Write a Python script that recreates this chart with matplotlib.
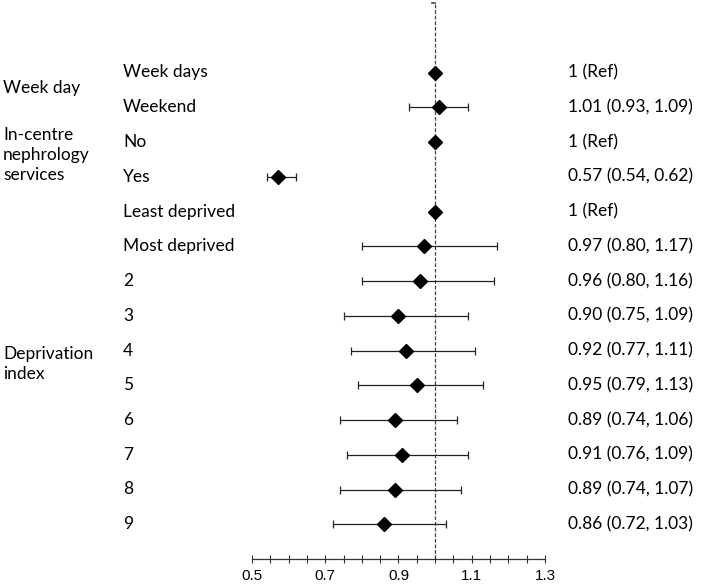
import matplotlib
matplotlib.use("Agg")
import matplotlib.pyplot as plt
import matplotlib.transforms as mtransforms
import numpy as np

# rows, top to bottom
labels = ["Week days", "Weekend", "No", "Yes", "Least deprived", "Most deprived",
          "2", "3", "4", "5", "6", "7", "8", "9"]
est = [1.00, 1.01, 1.00, 0.57, 1.00, 0.97, 0.96, 0.90, 0.92, 0.95, 0.89, 0.91, 0.89, 0.86]
lo = [np.nan, 0.93, np.nan, 0.54, np.nan, 0.80, 0.80, 0.75, 0.77, 0.79, 0.74, 0.76, 0.74, 0.72]
hi = [np.nan, 1.09, np.nan, 0.62, np.nan, 1.17, 1.16, 1.09, 1.11, 1.13, 1.06, 1.09, 1.07, 1.03]
ci_text = ["1 (Ref)", "1.01 (0.93, 1.09)", "1 (Ref)", "0.57 (0.54, 0.62)", "1 (Ref)",
           "0.97 (0.80, 1.17)", "0.96 (0.80, 1.16)", "0.90 (0.75, 1.09)",
           "0.92 (0.77, 1.11)", "0.95 (0.79, 1.13)", "0.89 (0.74, 1.06)",
           "0.91 (0.76, 1.09)", "0.89 (0.74, 1.07)", "0.86 (0.72, 1.03)"]
groups = ["Week day", "In-centre\nnephrology\nservices", "Deprivation\nindex"]
group_pos = [0.45, 2.38, 8.4]

W, H = 702, 584
fig = plt.figure(figsize=(W / 100, H / 100), dpi=100)
ax = fig.add_axes([252 / W, 25 / H, 293 / W, 556 / H])

txt_font = ["Lato", "DejaVu Sans"]

y = np.arange(len(labels))
est = np.array(est)
lo = np.array(lo)
hi = np.array(hi)
has_ci = ~np.isnan(lo)
ax.errorbar(est[has_ci], y[has_ci],
            xerr=[est[has_ci] - lo[has_ci], hi[has_ci] - est[has_ci]],
            fmt="none", ecolor="#222222", elinewidth=0.9, capsize=3, capthick=0.9)
ax.plot(est, y, "D", color="black", markersize=7.5, zorder=3)

# reference line at 1 with a small stub at its top
ax.axvline(1.0, color="#444444", lw=0.9, ls=(0, (3, 1.5)), zorder=1)
ax.plot([0.992, 1.0], [-2, -2], color="#444444", lw=1.2, clip_on=False)

ax.set_xlim(0.5, 1.3)
ax.set_ylim(14, -2)
ax.set_xticks(np.arange(0.5, 1.31, 0.2))
ax.set_xticklabels(["0.5", "0.7", "0.9", "1.1", "1.3"], fontfamily="Liberation Sans", fontsize=11)
ax.set_xticks(np.arange(0.5, 1.31, 0.05), minor=True)
ax.tick_params(axis="x", which="both", direction="inout", length=6, width=0.8, color="#333333", pad=4)
ax.set_yticks([])
for s in ["left", "right", "top"]:
    ax.spines[s].set_visible(False)
ax.spines["bottom"].set_color("#333333")
ax.spines["bottom"].set_linewidth(0.9)

tr = mtransforms.blended_transform_factory(fig.transFigure, ax.transData)
for i, lab in enumerate(labels):
    ax.text(123 / W, i, lab, transform=tr, ha="left", va="center",
            fontsize=12.5, family=txt_font, clip_on=False)
    ax.text(568 / W, i, ci_text[i], transform=tr, ha="left", va="center",
            fontsize=12.5, family=txt_font, clip_on=False)
for g, p in zip(groups, group_pos):
    ax.text(3 / W, p, g, transform=tr, ha="left", va="center",
            fontsize=12.5, family=txt_font, linespacing=1.3, clip_on=False)

fig.savefig("out.png", dpi=100)
